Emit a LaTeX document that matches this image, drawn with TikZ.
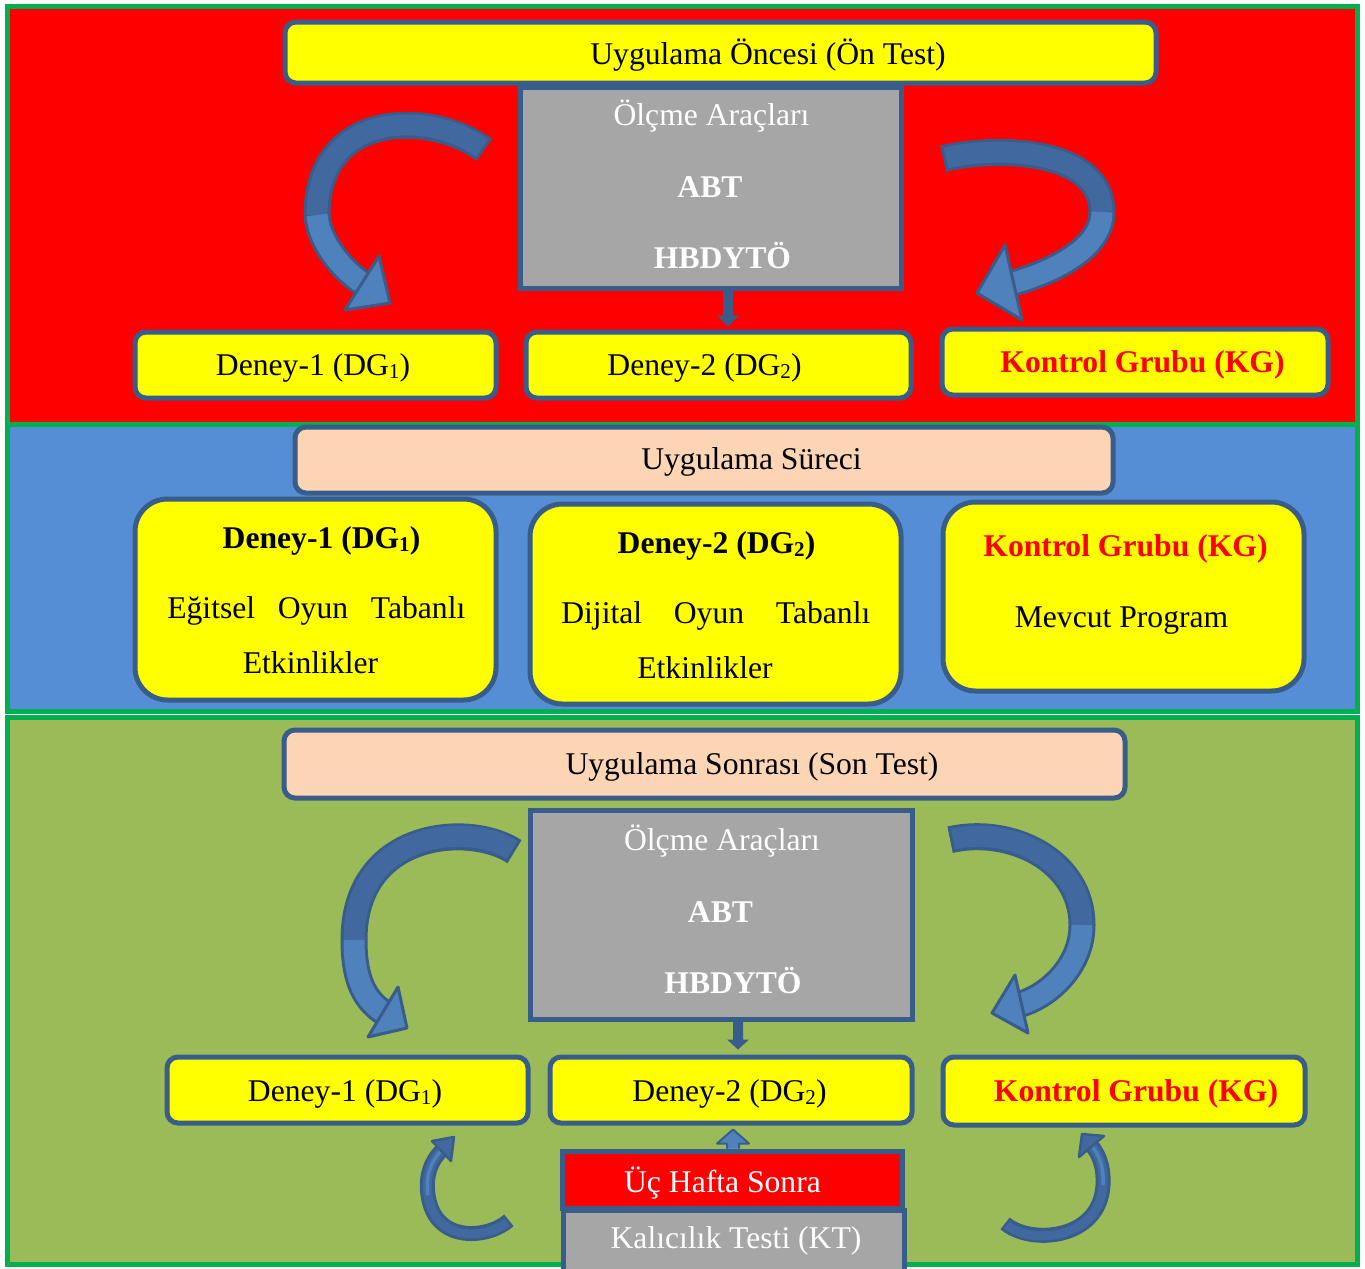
\documentclass[tikz,border=0pt]{standalone}
\usepackage{fontspec}
\setmainfont{Liberation Serif}
\usetikzlibrary{fit,calc}
\definecolor{bd}{HTML}{385D8A}
\definecolor{ab}{HTML}{4F81BD}
\definecolor{abd}{HTML}{41699F}
\definecolor{pred}{HTML}{FF0000}
\definecolor{pblue}{HTML}{558ED5}
\definecolor{polive}{HTML}{9BBB59}
\definecolor{pgreen}{HTML}{00B050}
\definecolor{yel}{HTML}{FFFF00}
\definecolor{peach}{HTML}{FCD5B5}
\definecolor{gry}{HTML}{A6A6A6}
\newcommand{\sbs}[1]{\raisebox{-0.12em}{\fontsize{12}{12}\selectfont #1}}
\begin{document}
\begin{tikzpicture}[x=0.02cm,y=-0.02cm,
  panel/.style={draw=pgreen,line width=0.1cm},
  box/.style={draw=bd,line width=0.1cm,inner sep=0pt,rounded corners=0.22cm},
  ybox/.style={box,fill=yel},
  pbox/.style={box,fill=peach},
  bigbox/.style={box,fill=yel,rounded corners=0.65cm},
  gbox/.style={draw=bd,line width=0.1cm,inner sep=0pt,fill=gry},
  rbox/.style={draw=bd,line width=0.1cm,inner sep=0pt,fill=pred},
  txt/.style={inner sep=0pt,anchor=base,font=\fontsize{18}{21}\selectfont},
  btxt/.style={txt,font=\fontsize{18}{21}\selectfont\bfseries},
  wtxt/.style={txt,text=white},
  wbtxt/.style={btxt,text=white},
  rtxt/.style={btxt,text=pred},
  ribout/.style={draw=bd,line width=0.54cm},
  ribd/.style={draw=abd,line width=0.42cm},
  ribl/.style={draw=ab,line width=0.42cm},
  sribout/.style={draw=bd,line width=0.3cm},
  sribd/.style={draw=abd,line width=0.18cm},
  sribl/.style={draw=ab,line width=0.07cm},
  headtri/.style={fill=ab,draw=bd,line width=0.06cm,line join=round},
  sheadtri/.style={fill=abd,draw=bd,line width=0.05cm,line join=round},
]
\useasboundingbox (0,0) rectangle (1365,1268);
\clip (0,0) rectangle (1365,1268);
\fill[white] (0,0) rectangle (1365,1268);

% panels
\draw[panel,fill=pred] (7.5,6.5) rectangle (1357.5,424.5);
\draw[panel,fill=pblue] (7.5,424.5) rectangle (1357.5,711.5);
\draw[panel,fill=polive] (7.5,717.5) rectangle (1357.5,1264.5);

% ---------- curved arrows, top ----------
\draw[ribout,shorten <=-0.06cm] (482,148) .. controls (430,110) and (317,110) .. (317,215) .. controls (319,240) and (338,266) .. (362,283);
\draw[ribd] (482,148) .. controls (430,110) and (317,110) .. (317,215);
\draw[ribl] (317,215) .. controls (319,240) and (338,266) .. (362,283);
\draw[headtri] (390,303) -- (379,256) -- (345,310) -- cycle;

\draw[ribout,shorten <=-0.06cm] (946,158) .. controls (1000,145) and (1102,150) .. (1102,212) .. controls (1102,250) and (1049,273) .. (1013,283);
\draw[ribd] (946,158) .. controls (1000,145) and (1102,150) .. (1102,212);
\draw[ribl] (1102,212) .. controls (1102,250) and (1049,273) .. (1013,283);
\draw[headtri] (977,293) -- (1005,245) -- (1022,320) -- cycle;

% ---------- curved arrows, bottom ----------
\draw[ribout,shorten <=-0.06cm] (512,850) .. controls (470,822) and (354,830) .. (354,940) .. controls (354,975) and (362,998) .. (383,1012);
\draw[ribd] (512,850) .. controls (470,822) and (354,830) .. (354,940);
\draw[ribl] (354,940) .. controls (354,975) and (362,998) .. (383,1012);
\draw[headtri] (407,1028) -- (398,987) -- (368,1037) -- cycle;

\draw[ribout,shorten <=-0.06cm] (953,839) .. controls (1010,826) and (1082,860) .. (1082,925) .. controls (1082,965) and (1050,995) .. (1021,1004);
\draw[ribd] (953,839) .. controls (1010,826) and (1082,860) .. (1082,925);
\draw[ribl] (1082,925) .. controls (1082,965) and (1050,995) .. (1021,1004);
\draw[headtri] (992,1013) -- (1015,975) -- (1028,1033) -- cycle;

% ---------- small arrows ----------
\draw[sribout,shorten <=-0.05cm] (507,1222) .. controls (490,1238) and (435,1245) .. (428,1195) .. controls (425,1175) and (432,1160) .. (441,1151);
\draw[sribd] (507,1222) .. controls (490,1238) and (435,1245) .. (428,1195) .. controls (425,1175) and (432,1160) .. (441,1151);
\draw[sribl] (428,1195) .. controls (425,1175) and (432,1160) .. (441,1151);
\draw[sheadtri] (454,1137) -- (432,1141) -- (451,1161) -- cycle;

\draw[sribout,shorten <=-0.05cm] (1007,1225) .. controls (1030,1245) and (1100,1240) .. (1103,1185) .. controls (1104,1165) and (1098,1153) .. (1091,1145);
\draw[sribd] (1007,1225) .. controls (1030,1245) and (1100,1240) .. (1103,1185) .. controls (1104,1165) and (1098,1153) .. (1091,1145);
\draw[sribl] (1103,1185) .. controls (1104,1165) and (1098,1153) .. (1091,1145);
\draw[sheadtri] (1082,1134) -- (1079,1157) -- (1104,1136) -- cycle;

% ---------- top panel boxes ----------
\node[ybox,fit={(285,22) (1156,83)}] (t1) {};
\node[gbox,fit={(520,87) (901,288)}] (g1) {};
\node[ybox,fit={(135,332) (496,398)}] (d1a) {};
\node[ybox,fit={(526,332) (911,398)}] (d2a) {};
\node[ybox,fit={(942,329) (1328,395)}] (kga) {};

\node[txt] (t1t) at (768,64) {Uygulama Öncesi (Ön Test)};
\node[wtxt] (g1a) at (711.5,125) {Ölçme Araçları};
\node[wbtxt] (g1b) at (710,197) {ABT};
\node[wbtxt] (g1c) at (722.5,268) {HBDYTÖ};
\node[txt] (d1at) at (313,375) {Deney-1 (DG\sbs{1})};
\node[txt] (d2at) at (704.5,375) {Deney-2 (DG\sbs{2})};
\node[rtxt] (kgat) at (1142.5,372) {Kontrol Grubu (KG)};

\coordinate (a1x) at (728,0);
\coordinate (a1s) at (g1.south -| a1x);
\coordinate (a1e) at ($(d2a.north -| a1x)+(0,-3)$);
\fill[bd] ($(a1s)+(-5,0)$) -- ($(a1e)+(-5,-11)$) -- ($(a1e)+(-11,-11)$) -- (a1e) -- ($(a1e)+(11,-11)$) -- ($(a1e)+(5,-11)$) -- ($(a1s)+(5,0)$) -- cycle;

% ---------- middle panel ----------
\node[pbox,fit={(295,427) (1113,493)}] (s2) {};
\node[bigbox,fit={(135,499) (496,700)}] (d1b) {};
\node[bigbox,fit={(530,504) (901,704)}] (d2b) {};
\node[bigbox,fit={(943,502) (1304,691)}] (kgb) {};

\node[txt] (s2t) at (751.5,469) {Uygulama Süreci};
\node[btxt] (d1b1) at (321.5,548) {Deney-1 (DG\sbs{1})};
\node[txt,anchor=base west] (d1b2) at (167,618) {\makebox[5.96cm]{Eğitsel\hfill Oyun\hfill Tabanlı}};
\node[txt] (d1b3) at (310.5,673) {Etkinlikler};
\node[btxt] (d2b1) at (716.5,553) {Deney-2 (DG\sbs{2})};
\node[txt,anchor=base west] (d2b2) at (561,623) {\makebox[6.18cm]{Dijital\hfill Oyun\hfill Tabanlı}};
\node[txt] (d2b3) at (705,678) {Etkinlikler};
\node[rtxt] (kgb1) at (1125.5,556) {Kontrol Grubu (KG)};
\node[txt] (kgb2) at (1121.5,627) {Mevcut Program};

% ---------- bottom panel ----------
\node[pbox,fit={(284,730) (1125,798)}] (s3) {};
\node[gbox,fit={(530,810) (912,1019)}] (g3) {};
\node[ybox,fit={(167,1057) (528,1123)}] (d1c) {};
\node[ybox,fit={(550,1057) (912,1123)}] (d2c) {};
\node[ybox,fit={(943,1057) (1305,1125)}] (kgc) {};
\node[rbox,fit={(562,1151) (902,1208)}] (u1) {};
\node[gbox,fit={(563,1210) (904,1280)}] (k1) {};

\node[txt] (s3t) at (752,774) {Uygulama Sonrası (Son Test)};
\node[wtxt] (g3a) at (722,850) {Ölçme Araçları};
\node[wbtxt] (g3b) at (720.5,922) {ABT};
\node[wbtxt] (g3c) at (733,993) {HBDYTÖ};
\node[txt] (d1ct) at (345,1101) {Deney-1 (DG\sbs{1})};
\node[txt] (d2ct) at (729.5,1101) {Deney-2 (DG\sbs{2})};
\node[rtxt] (kgct) at (1136,1101) {Kontrol Grubu (KG)};
\node[wtxt] (u1t) at (722.5,1192) {Üç Hafta Sonra};
\node[wtxt] (k1t) at (736,1248) {Kalıcılık Testi (KT)};

\coordinate (a2x) at (738,0);
\coordinate (a2s) at (g3.south -| a2x);
\coordinate (a2e) at ($(d2c.north -| a2x)+(0,-5)$);
\fill[bd] ($(a2s)+(-5,0)$) -- ($(a2e)+(-5,-10)$) -- ($(a2e)+(-11,-10)$) -- (a2e) -- ($(a2e)+(11,-10)$) -- ($(a2e)+(5,-10)$) -- ($(a2s)+(5,0)$) -- cycle;

\coordinate (a3x) at (733,0);
\coordinate (a3s) at (u1.north -| a3x);
\coordinate (a3e) at ($(d2c.south -| a3x)+(0,4)$);
\draw[fill=ab,draw=bd,line width=0.04cm,line join=round] ($(a3s)+(-6,0)$) -- ($(a3e)+(-6,14)$) -- ($(a3e)+(-16,14)$) -- (a3e) -- ($(a3e)+(16,14)$) -- ($(a3e)+(6,14)$) -- ($(a3s)+(6,0)$);
\end{tikzpicture}
\end{document}
